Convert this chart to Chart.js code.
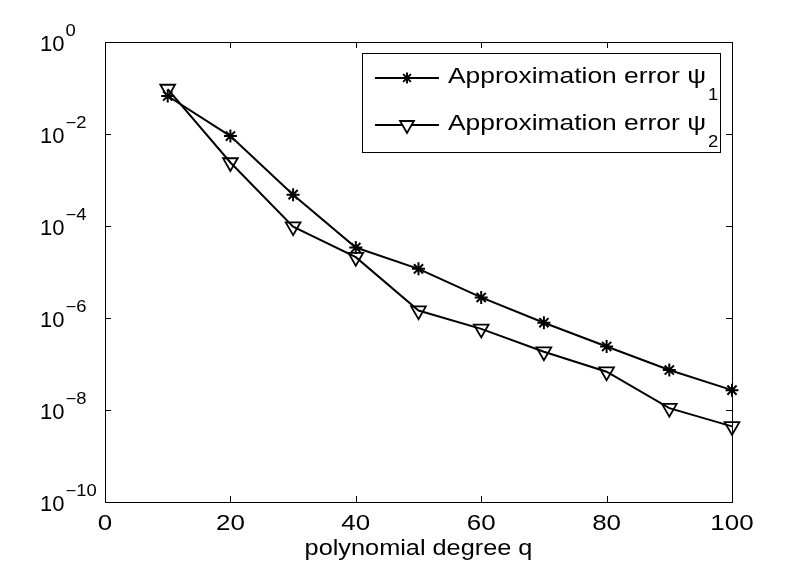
<!DOCTYPE html>
<html><head><meta charset="utf-8">
<script src="https://cdn.jsdelivr.net/npm/chart.js@4/dist/chart.umd.min.js"></script>
<style>html,body{margin:0;padding:0;background:#fff;} canvas{display:block;}</style>
</head><body>
<canvas id="c" width="806" height="568"></canvas>
<script>
const degrees = [10, 20, 30, 40, 50, 60, 70, 80, 90, 100];
const errorPsi1 = [6.7e-2, 9.0e-3, 4.8e-4, 3.4e-5, 1.17e-5, 2.8e-6, 7.9e-7, 2.4e-7, 7.4e-8, 2.7e-8];
const errorPsi2 = [9.5e-2, 2.4e-3, 9.7e-5, 2.1e-5, 1.45e-6, 5.8e-7, 1.85e-7, 6.8e-8, 1.1e-8, 4.4e-9];
const xTicks = [0, 20, 40, 60, 80, 100];
const yTickExponents = [0, -2, -4, -6, -8, -10];
const seriesNames = ['Approximation error \u03C8', 'Approximation error \u03C8'];
const seriesSubscripts = ['1', '2'];
const xTitle = 'polynomial degree q';

const FONT = '"Liberation Sans", Arial, Helvetica, sans-serif';
const markerStyles = [
  {pointStyle: 'star', radius: 6.5, rotation: 0, borderWidth: 2},
  {pointStyle: 'triangle', radius: 8.5, rotation: 180, borderWidth: 1.8}
];
const legendMarkerStyles = [
  {pointStyle: 'star', radius: 5.5, rotation: 0, borderWidth: 2},
  {pointStyle: 'triangle', radius: 8, rotation: 180, borderWidth: 1.8}
];

function stretchedText(ctx, text, x, y, sx, align) {
  ctx.save();
  ctx.translate(x, y);
  ctx.scale(sx, 1);
  ctx.textAlign = align;
  ctx.fillText(text, 0, 0);
  ctx.restore();
}

const decorPlugin = {
  id: 'decor',
  afterDraw(chart) {
    const ctx = chart.ctx;
    const a = chart.chartArea;
    const xs = chart.scales.x, ys = chart.scales.y;
    ctx.save();
    ctx.strokeStyle = '#000';
    ctx.fillStyle = '#000';
    ctx.lineWidth = 1;
    // frame
    ctx.strokeRect(Math.round(a.left) + 0.5, Math.round(a.top) + 0.5,
                   Math.round(a.right - a.left), Math.round(a.bottom - a.top));
    const tl = 6;
    ctx.beginPath();
    xTicks.forEach(v => {
      const px = Math.round(xs.getPixelForValue(v)) + 0.5;
      ctx.moveTo(px, a.bottom); ctx.lineTo(px, a.bottom - tl);
      ctx.moveTo(px, a.top); ctx.lineTo(px, a.top + tl);
    });
    yTickExponents.forEach(e => {
      const py = Math.round(ys.getPixelForValue(Math.pow(10, e))) + 0.5;
      ctx.moveTo(a.left, py); ctx.lineTo(a.left + tl, py);
      ctx.moveTo(a.right, py); ctx.lineTo(a.right - tl, py);
    });
    ctx.stroke();

    // y tick labels
    ctx.textBaseline = 'alphabetic';
    yTickExponents.forEach(e => {
      const py = ys.getPixelForValue(Math.pow(10, e));
      ctx.font = '22px ' + FONT;
      ctx.textAlign = 'left';
      ctx.fillText('10', 40, py + 8.5);
      const w = ctx.measureText('10').width;
      ctx.font = '16px ' + FONT;
      const sup = e === 0 ? '0' : '\u2212' + Math.abs(e);
      stretchedText(ctx, sup, 40 + w + 1, py - 6.5, 1.15, 'left');
    });

    // x tick labels
    ctx.font = '22px ' + FONT;
    xTicks.forEach(v => {
      stretchedText(ctx, String(v), xs.getPixelForValue(v), a.bottom + 28, 1.18, 'center');
    });
    // x title
    stretchedText(ctx, xTitle, (a.left + a.right) / 2, a.bottom + 53, 1.15, 'center');

    // legend
    const box = {x: 362.5, y: 53.5, w: 358, h: 99};
    ctx.fillStyle = '#fff';
    ctx.fillRect(box.x, box.y, box.w, box.h);
    ctx.strokeStyle = '#000';
    ctx.lineWidth = 1;
    ctx.strokeRect(box.x, box.y, box.w, box.h);
    ctx.fillStyle = '#000';
    const rowsY = [78, 125];
    seriesNames.forEach((name, i) => {
      const ly = rowsY[i];
      ctx.lineWidth = 2;
      ctx.beginPath();
      ctx.moveTo(375, ly); ctx.lineTo(439, ly);
      ctx.stroke();
      ctx.lineWidth = legendMarkerStyles[i].borderWidth;
      ctx.fillStyle = '#fff';
      Chart.helpers.drawPoint(ctx, legendMarkerStyles[i], 407, ly);
      ctx.fillStyle = '#000';
      ctx.font = '22px ' + FONT;
      const sx = 1.2;
      const tx = 448, ty = ly + 4.5;
      stretchedText(ctx, name, tx, ty, sx, 'left');
      const w = ctx.measureText(name).width * sx;
      ctx.font = '16px ' + FONT;
      stretchedText(ctx, seriesSubscripts[i], tx + w + 2, ty + 17.5, 1.15, 'left');
    });
    ctx.restore();
  }
};

new Chart(document.getElementById('c'), {
  type: 'line',
  data: {
    datasets: [
      {
        label: seriesNames[0] + seriesSubscripts[0],
        data: degrees.map((x, i) => ({x, y: errorPsi1[i]})),
        borderColor: '#000', borderWidth: 2, tension: 0, fill: false,
        pointStyle: markerStyles[0].pointStyle, pointRadius: markerStyles[0].radius,
        pointRotation: markerStyles[0].rotation,
        pointBorderWidth: markerStyles[0].borderWidth, pointBorderColor: '#000',
        pointBackgroundColor: 'rgba(0,0,0,0)', clip: false
      },
      {
        label: seriesNames[1] + seriesSubscripts[1],
        data: degrees.map((x, i) => ({x, y: errorPsi2[i]})),
        borderColor: '#000', borderWidth: 2, tension: 0, fill: false,
        pointStyle: markerStyles[1].pointStyle, pointRadius: markerStyles[1].radius,
        pointRotation: markerStyles[1].rotation,
        pointBorderWidth: markerStyles[1].borderWidth, pointBorderColor: '#000',
        pointBackgroundColor: 'rgba(0,0,0,0)', clip: false
      }
    ]
  },
  options: {
    responsive: false,
    animation: false,
    devicePixelRatio: 1,
    layout: {padding: {left: 105, top: 42, right: 74, bottom: 66}},
    plugins: {legend: {display: false}, tooltip: {enabled: false}},
    scales: {
      x: {type: 'linear', min: 0, max: 100, display: false},
      y: {type: 'logarithmic', min: 1e-10, max: 1, display: false}
    }
  },
  plugins: [decorPlugin]
});
</script>
</body></html>
